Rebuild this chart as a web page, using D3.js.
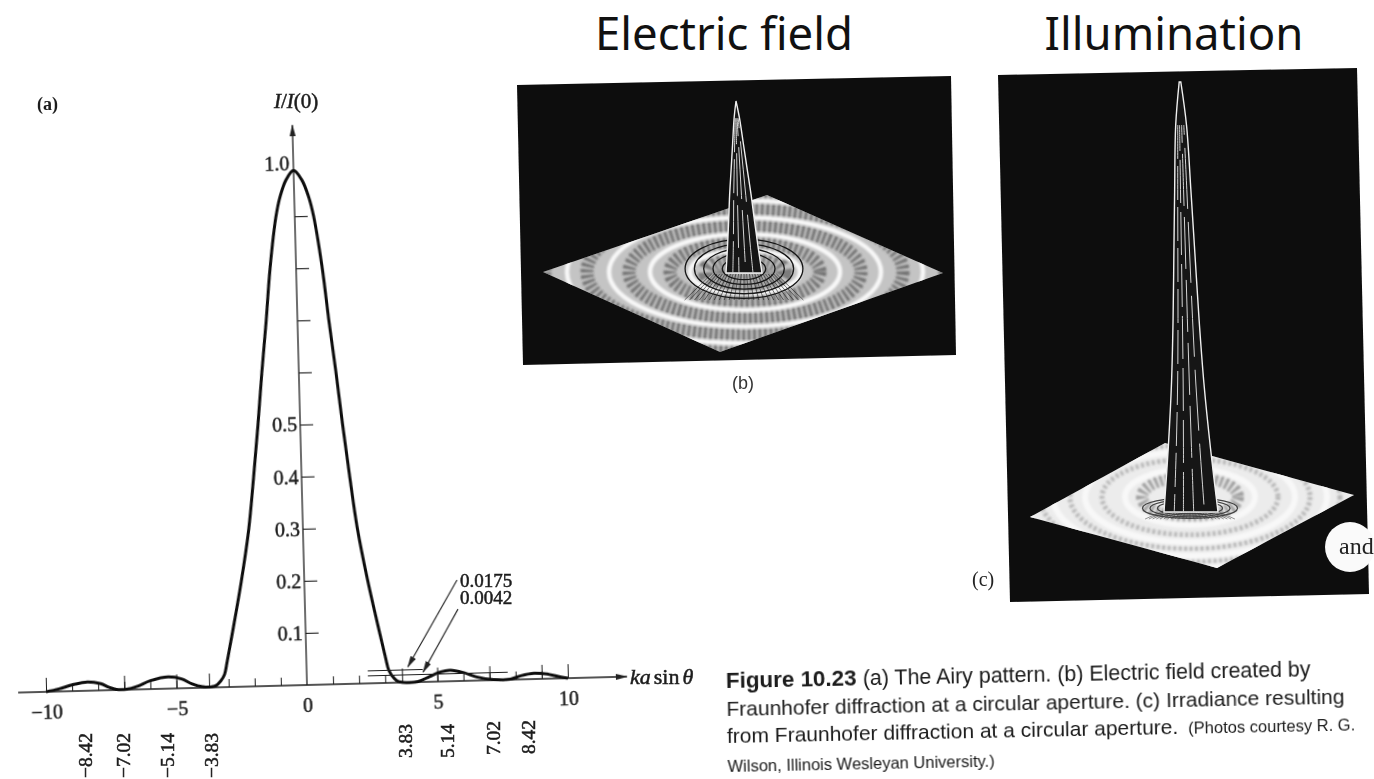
<!DOCTYPE html>
<html><head><meta charset="utf-8">
<script src="https://cdn.jsdelivr.net/npm/d3@7"></script>
<style>html,body{margin:0;background:#fff}svg{display:block}</style></head>
<body><svg id="c" width="1374" height="779"></svg>
<script>
// ---------- data ----------
const curveX = [-10,-9.5,-9,-8.4,-7.9,-7.6,-7.3,-6.9,-6.5,-6,-5.3,-4.8,-4.4,-4,-3.7,-3.5,-3.3,-3.15,-3.03,-2.82,-2.42,-2.08,-1.84,-1.62,-1.42,-1.2,-1,-0.72,-0.55,-0.3,0,0.3,0.55,0.72,1,1.2,1.42,1.62,1.84,2.08,2.42,2.82,3.03,3.15,3.35,3.5,3.7,4.26,4.7,5.1,5.5,6,6.5,7.15,7.8,8.2,8.7,9.2,9.7,10];
const curveY = [0,0.005,0.012,0.017,0.013,0.006,0.001,0.001,0.006,0.016,0.0225,0.018,0.008,0.002,0.001,0.003,0.012,0.024,0.05,0.1,0.2,0.3,0.4,0.5,0.6,0.7,0.8,0.9,0.937,0.97,0.988,0.97,0.937,0.9,0.8,0.7,0.6,0.5,0.4,0.3,0.2,0.1,0.05,0.024,0.008,0.002,0,0.001,0.01,0.018,0.021,0.016,0.007,0.001,0.001,0.007,0.011,0.009,0.003,0];
const xMajorLabels = [-10,-5,0,5,10];
const xUnitTicks = [-10,-9,-8,-7,-6,-5,-3,-2,-1,1,2,3,5,6,7,8,9,10];
const xTallTicks = [-10,-7,-5,-3.75,3.65,5,7,9,10];
const zeroLabels = ["−8.42","−7.02","−5.14","−3.83","3.83","5.14","7.02","8.42"];
const zeroValues = [-8.42,-7.02,-5.14,-3.83,3.83,5.14,7.02,8.42];
const yTicks = [0.1,0.2,0.3,0.4,0.5,0.6,0.7,0.8,0.9];
const yLabelled = [0.1,0.2,0.3,0.4,0.5];
const lobeLevels = [0.024,0.0145];
const lobeLevelNames = ["0.0175","0.0042"];
const lobeRuleStart = [2.34,2.34];
const lobeRuleEnd = [4.45,7.7];
const titles = ["Electric field","Illumination"];
const captionLines = [
 "(a) The Airy pattern. (b) Electric field created by",
 "Fraunhofer diffraction at a circular aperture. (c) Irradiance resulting",
 "from Fraunhofer diffraction at a circular aperture.",
 "Wilson, Illinois Wesleyan University.)"];
const captionHead = "Figure 10.23";
const captionCredit = "(Photos courtesy R. G.";
const ringsB = [35,75,116,158,200];
const ringsC = [48,88,120,150,185];
const spikeHeights = [0,0.1,0.25,0.4,0.55,0.7,0.85,1];
const spikeWidthsB = [0,0.15,0.3,0.45,0.6,0.72,0.85,1];
const spikeWidthsC = [0.03,0.2,0.3,0.39,0.48,0.6,0.78,1];
const footRows = [0.35,0.5,0.65,0.8,0.95];

// ---------- layout ----------
const svg = d3.select("#c");
const serif = "'Liberation Serif',serif", sans = "'Liberation Sans',sans-serif";
const defs = svg.append("defs");
defs.append("filter").attr("id","soft").append("feGaussianBlur").attr("stdDeviation",0.45);
defs.append("filter").attr("id","softer").append("feGaussianBlur").attr("stdDeviation",0.7);
defs.append("filter").attr("id","softest").append("feGaussianBlur").attr("stdDeviation",0.9);
const mk = defs.append("marker").attr("id","ah").attr("viewBox","0 0 12 6").attr("refX",11).attr("refY",3)
  .attr("markerWidth",12).attr("markerHeight",6).attr("markerUnits","userSpaceOnUse").attr("orient","auto");
mk.append("path").attr("d","M0,0L12,3L0,6Z").attr("fill","#222");

// ---------- panel (a) ----------
const ox = 307, oy = 685;
const g = svg.append("g").attr("transform",`rotate(-1.5 ${ox} ${oy})`).attr("filter","url(#soft)");
const xScale = d3.scaleLinear().domain([-10,10]).range([ox-261,ox+261]);
const yScale = d3.scaleLinear().domain([0,1]).range([oy,oy-521]);
const ink = "#1c1c1c";
const heavy = s=>s.attr("font-family",serif).attr("fill",ink).attr("stroke",ink).attr("stroke-width",0.5);

g.append("g").attr("transform",`translate(0,${oy})`)
  .call(d3.axisTop(xScale).tickValues(xUnitTicks).tickSize(8).tickFormat(""))
  .call(a=>a.select(".domain").remove())
  .call(a=>a.selectAll("line").attr("stroke",ink).attr("stroke-width",1));
g.append("g").attr("transform",`translate(0,${oy})`)
  .call(d3.axisTop(xScale).tickValues(xTallTicks).tickSize(14).tickFormat(""))
  .call(a=>a.select(".domain").remove())
  .call(a=>a.selectAll("line").attr("stroke",ink).attr("stroke-width",1));
g.append("g").attr("transform",`translate(0,${oy})`)
  .call(d3.axisBottom(xScale).tickValues(xMajorLabels).tickSize(0).tickPadding(13).tickFormat(d=>String(d).replace("-","−")))
  .call(a=>a.select(".domain").remove())
  .call(a=>heavy(a.selectAll("text")).attr("font-size",20));
g.append("line").attr("x1",xScale(-11.07)).attr("x2",xScale(12.26)).attr("y1",yScale(0)).attr("y2",yScale(0))
  .attr("stroke",ink).attr("stroke-width",1.7).attr("marker-end","url(#ah)");

g.append("g").attr("transform",`translate(${ox},0)`)
  .call(d3.axisLeft(yScale).tickValues(yTicks).tickSize(-13).tickPadding(3).tickFormat(d=>yLabelled.includes(d)?d3.format(".1f")(d):""))
  .call(a=>a.select(".domain").remove())
  .call(a=>a.selectAll("line").attr("stroke",ink).attr("stroke-width",1.1))
  .call(a=>heavy(a.selectAll("text")).attr("font-size",20));
g.append("line").attr("x1",ox).attr("x2",ox).attr("y1",yScale(0)).attr("y2",yScale(1.075))
  .attr("stroke",ink).attr("stroke-width",1.3).attr("marker-end","url(#ah)");
heavy(g.append("text").attr("x",ox-4).attr("y",yScale(1)+6).attr("text-anchor","end").text("1.0")).attr("font-size",20);

const pts = d3.zip(curveX,curveY);
g.append("path").attr("d",d3.line().x(d=>xScale(d[0])).y(d=>yScale(d[1])).curve(d3.curveCatmullRom.alpha(0.5))(pts))
  .attr("fill","none").attr("stroke","#111").attr("stroke-width",3);

lobeLevels.forEach((v,i)=>{
  g.append("line").attr("x1",xScale(lobeRuleStart[i])).attr("x2",xScale(lobeRuleEnd[i])).attr("y1",yScale(v)).attr("y2",yScale(v))
    .attr("stroke",ink).attr("stroke-width",1.1);
});
g.append("line").attr("x1",xScale(5.85)).attr("y1",yScale(0.194)).attr("x2",xScale(3.88)).attr("y2",yScale(0.0296))
  .attr("stroke",ink).attr("stroke-width",1.1).attr("marker-end","url(#ah)");
g.append("line").attr("x1",xScale(5.86)).attr("y1",yScale(0.138)).attr("x2",xScale(4.46)).attr("y2",yScale(0.019))
  .attr("stroke",ink).attr("stroke-width",1.1).attr("marker-end","url(#ah)");

// ---------- photo panels ----------
function panel(cfg){
  const p = svg.append("g").attr("filter","url(#softer)");
  p.append("polygon").attr("points",cfg.frame.join(" ")).attr("fill","#0c0c0c");
  defs.append("clipPath").attr("id",cfg.id).append("polygon").attr("points",cfg.diamond.join(" "));
  p.append("polygon").attr("points",cfg.diamond.join(" ")).attr("fill",cfg.plate);
  const rg = p.append("g").attr("clip-path",`url(#${cfg.id})`);
  const ringG = rg.append("g").attr("filter","url(#softest)");
  cfg.rings.forEach((r,i)=>{
    ringG.append("ellipse").attr("cx",cfg.c[0]).attr("cy",cfg.c[1]).attr("rx",r).attr("ry",r*cfg.flat)
      .attr("fill","none").attr("stroke",cfg.dark).attr("stroke-width",i?cfg.bandW:cfg.coreW)
      .attr("stroke-dasharray","3 2.5").attr("opacity",i?cfg.bandO:cfg.coreO);
    ringG.append("ellipse").attr("cx",cfg.c[0]).attr("cy",cfg.c[1]).attr("rx",r+cfg.gap).attr("ry",(r+cfg.gap)*cfg.flat)
      .attr("fill","none").attr("stroke","#f8f8f8").attr("stroke-width",cfg.glow);
  });
  // concentric rows and spokes of the fine mesh round the foot
  footRows.forEach(f=>{
    rg.append("ellipse").attr("cx",cfg.foot[0]).attr("cy",cfg.foot[1]-cfg.meshH*0.2).attr("rx",cfg.footR*f).attr("ry",cfg.meshH*1.2*f)
      .attr("fill","none").attr("stroke",cfg.meshC).attr("stroke-width",1.3);
  });
  d3.range(-12,13).forEach(k=>{
    rg.append("line").attr("x1",cfg.foot[0]+k*cfg.mesh*0.6).attr("y1",cfg.foot[1])
      .attr("x2",cfg.foot[0]+k*cfg.mesh*1.1).attr("y2",cfg.foot[1]+cfg.meshH)
      .attr("stroke",cfg.meshC).attr("stroke-width",0.8).attr("opacity",.7);
  });
  const [ax,ay] = cfg.apex, by = cfg.baseY, cx = cfg.baseX, hw = cfg.halfW;
  const side = s=>spikeHeights.map((h,i)=>[ax+(cx-ax)*h + s*hw*cfg.widths[i], ay+(by-ay)*h]);
  const ln = d3.line().curve(d3.curveCatmullRom);
  const outline = ln(side(-1).reverse()) + "L" + ln(side(1)).slice(1) + "Z";
  p.append("path").attr("d",outline).attr("fill","#161616").attr("stroke","#f0f0f0").attr("stroke-width",cfg.edge);
  [-0.62,-0.28,0.1,0.5].forEach((f,j)=>{
    const path = spikeHeights.slice(1).map((h,i)=>[ax+(cx-ax)*h + f*hw*cfg.widths[i+1], ay+(by-ay)*h]);
    p.append("path").attr("d",ln(path)).attr("fill","none").attr("stroke","#d4d4d4").attr("stroke-width",1)
      .attr("stroke-dasharray",(34+j*9)+" "+(7+j*2)).attr("stroke-dashoffset",j*17);
  });
  return p;
}
panel({id:"pb",frame:[[517,85],[951,76],[956,355],[523,365]],
  diamond:[[543,272],[767,195],[943,273],[720,352]],plate:"#c4c4c4",dark:"#3e3e3e",bandW:13,bandO:.6,coreW:24,coreO:.55,gap:20,glow:4.5,
  c:[745,272],flat:.4,rings:ringsB,mesh:4.5,foot:[744,274],meshH:26,footR:62,meshC:"#161616",apex:[736,101],baseY:273,baseX:744,halfW:18,widths:spikeWidthsB,edge:1.4});
const pc = panel({id:"pc",frame:[[998,75],[1357,68],[1369,594],[1010,602]],
  diamond:[[1030,517],[1165,443],[1354,495],[1217,568]],plate:"#ececec",dark:"#6a6a6a",bandW:5,bandO:.4,coreW:12,coreO:.6,gap:17,glow:6,
  c:[1190,497],flat:.43,rings:ringsC,mesh:3.4,foot:[1190,510],meshH:9,footR:50,meshC:"#444",apex:[1180,82],baseY:512,baseX:1191,halfW:27,widths:spikeWidthsC,edge:1.4});
pc.append("ellipse").attr("cx",1350).attr("cy",547).attr("rx",25).attr("ry",25).attr("fill","#fafafa");

// ---------- text laid over everything ----------
const labels = svg.append("g").attr("filter","url(#soft)");
lobeLevelNames.forEach((s,i)=>{
  heavy(labels.append("text").attr("x",460).attr("y",587+i*17).text(s)).attr("font-size",19);
});
const zeroNudge = [-2,0,-5,4,-1,6,3,2];
const zeroStart = [778,778,778,778,758,758,755,754];
heavy(labels.selectAll("text.z").data(zeroLabels).join("text").attr("class","z")
  .attr("transform",(d,i)=>`translate(${xScale(zeroValues[i])+zeroNudge[i]+6.5},${zeroStart[i]}) rotate(-90)`)
  .text(d=>d)).attr("font-size",19.5);

const t = (s,px,py,fs,o={})=>labels.append("text").attr("x",px).attr("y",py).text(s)
  .attr("font-family",o.f||serif).attr("font-size",fs).attr("font-weight",o.w||400)
  .attr("font-style",o.s||"normal").attr("fill",o.c||ink).attr("text-anchor",o.a||"start");
t("(a)",37,110,18,{w:700});
const il = heavy(labels.append("text").attr("x",274).attr("y",108)).attr("font-size",21);
il.append("tspan").attr("font-style","italic").text("I");
il.append("tspan").text("/");
il.append("tspan").attr("font-style","italic").text("I");
il.append("tspan").text("(0)");
const ka = heavy(labels.append("text").attr("x",630).attr("y",684)).attr("font-size",22);
ka.append("tspan").attr("font-style","italic").text("ka");
ka.append("tspan").attr("dx",3).text("sin");
ka.append("tspan").attr("dx",3).attr("font-style","italic").text("θ");
t("and",1339,554,24,{c:"#222"});
t("(b)",732,389,18,{f:sans,c:"#333"});
t("(c)",972,586,20,{f:serif,c:"#222"});

// ---------- titles ----------
svg.selectAll("text.title").data(titles).join("text").attr("class","title")
  .attr("x",(d,i)=>i?1174:724).attr("y",50).attr("text-anchor","middle").text(d=>d)
  .attr("font-family","'Noto Sans',sans-serif").attr("font-size",45.5).attr("fill","#111");

// ---------- caption ----------
const cap = svg.append("g").attr("transform","rotate(-1.15 726 688)").attr("filter","url(#soft)");
const capY = [688,716,743,772], capS = [21.4,21,21,16.5];
captionLines.forEach((s,i)=>{
  const tx = cap.append("text").attr("x",726).attr("y",capY[i]).attr("font-family",sans).attr("font-size",capS[i]).attr("fill","#1a1a1a");
  if(i===0) tx.append("tspan").attr("font-weight",700).attr("font-size",22.4).text(captionHead+"  ");
  tx.append("tspan").text(s);
  if(i===2) tx.append("tspan").attr("dx",10).attr("font-size",16.5).text(captionCredit);
});
</script></body></html>
